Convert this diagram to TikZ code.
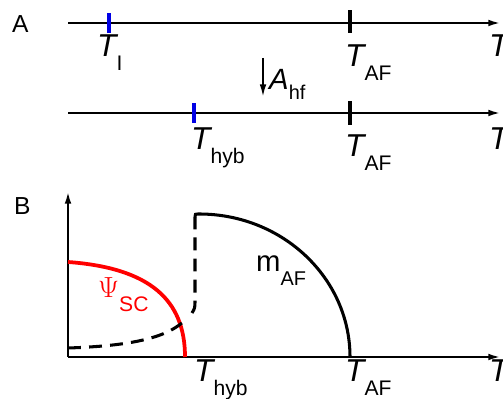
\documentclass[tikz,border=0pt]{standalone}
\usepackage{fontspec}
\setmainfont{Liberation Sans}
\newfontfamily\psifont{Liberation Serif}
\usetikzlibrary{arrows.meta}

\newcommand{\bigT}{\fontsize{27}{27}\selectfont\itshape}
\newcommand{\subf}{\fontsize{18}{18}\selectfont}
\newcommand{\Tsub}[1]{{\bigT T}\raisebox{-0.40cm}{\subf #1}}

\begin{document}
\begin{tikzpicture}[
    x=0.03cm,y=0.03cm,
    axis/.style={-{Latex[length=0.38cm,width=0.2cm]}, line width=2pt},
    tick/.style={line width=3pt},
    bluetick/.style={tick, blue!90!black},
    lbl/.style={anchor=base west, inner sep=0pt},
    panel/.style={lbl, font=\fontsize{21}{21}\selectfont},
    order/.style={line width=2.6pt},
    dashorder/.style={order, dash pattern=on 11pt off 7pt}
]
\useasboundingbox (0,0) rectangle (503,399);

% --- Panel A: two temperature axes ---
\node[panel] (pa) at (12,366) {A};

\coordinate (a1s) at (68,376);
\coordinate (a1e) at (501,376);
\draw[axis] (a1s) -- (a1e);

\coordinate (ti) at (109,376);
\coordinate (taf1) at (350,376);
\draw[bluetick] ([yshift=-10*0.03cm]ti) -- ([yshift=10*0.03cm]ti);
\draw[tick] ([yshift=-10*0.03cm]taf1) -- ([yshift=13*0.03cm]taf1);

\node[lbl] (lti) at (97,342) {\Tsub{I}};
\node[lbl] (ltaf1) at (345,332) {\Tsub{AF}};
\node[lbl] (lt1) at (489,342) {\bigT T};

% hyperfine coupling shifts the transition
\coordinate (hfs) at (263,341);
\coordinate (hfe) at (263,302);
\draw[axis, line width=1.6pt] (hfs) -- (hfe);
\node[lbl] (lahf) at (269,309)
{{\fontsize{25}{25}\selectfont\itshape A}\raisebox{-0.30cm}{\fontsize{17}{17}\selectfont hf}};

\coordinate (a2s) at (68,286);
\coordinate (a2e) at (501,286);
\draw[axis] (a2s) -- (a2e);

\coordinate (thyb1) at (194,286);
\coordinate (taf2) at (350,286);
\draw[bluetick] ([yshift=-10*0.03cm]thyb1) -- ([yshift=10*0.03cm]thyb1);
\draw[tick] ([yshift=-12*0.03cm]taf2) -- ([yshift=12*0.03cm]taf2);

\node[lbl] (lthyb1) at (191,249) {\Tsub{hyb}};
\node[lbl] (ltaf2) at (345,242) {\Tsub{AF}};
\node[lbl] (lt2) at (489,249) {\bigT T};

% --- Panel B: order parameters ---
\node[panel] (pb) at (14,184) {B};

\coordinate (o) at (68,42);
\coordinate (ytop) at (68,208);
\coordinate (xend) at (501,42);
\draw[axis] (o) -- (ytop);
\draw[axis] (o) -- (xend);

% superconducting gap
\coordinate (scs) at (68,137);
\coordinate (sce) at (185,42);
\draw[order, red, line width=3.2pt] (scs) .. controls (150,131) and (185,99) .. (sce);

% moment, suppressed below T_hyb
\coordinate (ms) at (68,51);
\coordinate (mk) at (183,77);
\draw[dashorder] (ms) .. controls (130,53) and (165,61) .. (mk);
\coordinate (js) at (192,86);
\coordinate (je) at (195,182);
\draw[dashorder] (js) .. controls (195,91) .. (195,100) -- (je);

\coordinate (afs) at (199,185);
\draw[order] (je) .. controls (195,185) .. (afs)
    arc[start angle=90, end angle=0, x radius=151, y radius=143];

\node[lbl, red] (lpsi) at (98,101)
{{\fontsize{29}{29}\selectfont\psifont $\Psi$}\raisebox{-0.42cm}{\fontsize{18}{18}\selectfont SC}};
\node[lbl] (lmaf) at (256,127)
{{\fontsize{25}{25}\selectfont m}\raisebox{-0.42cm}{\fontsize{17}{17}\selectfont AF}};

\node[lbl] (lthyb2) at (194,17) {\Tsub{hyb}};
\node[lbl] (ltaf3) at (345,17) {\Tsub{AF}};
\node[lbl] (lt3) at (489,17) {\bigT T};

\end{tikzpicture}
\end{document}
